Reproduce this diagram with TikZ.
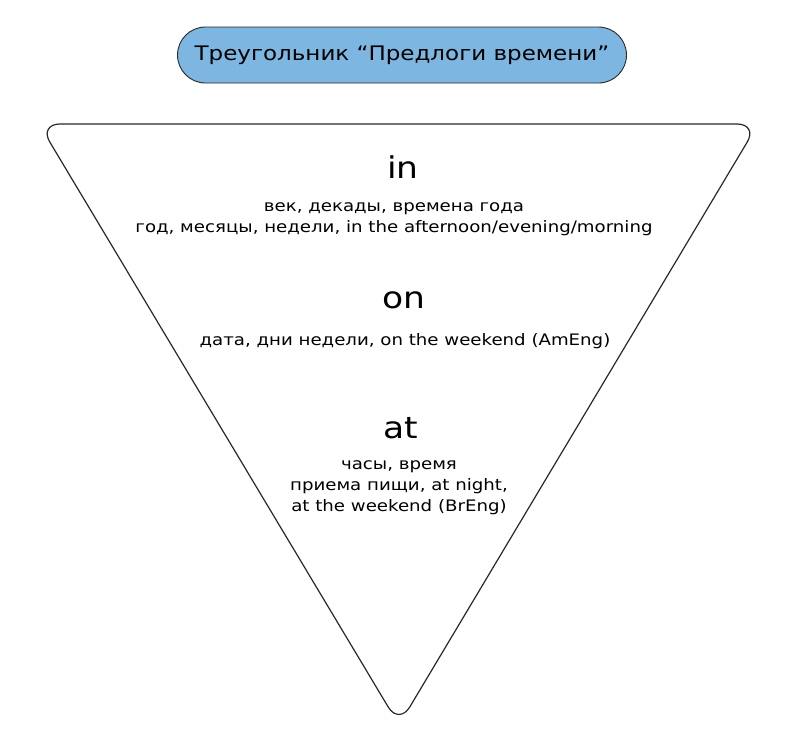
\documentclass[tikz,border=0pt]{standalone}
\usepackage{fontspec}
\setmainfont{DejaVu Sans}[FakeStretch=1.15]
\definecolor{titleblue}{RGB}{125,183,225}
\definecolor{edgegray}{RGB}{40,40,40}

\begin{document}
\begin{tikzpicture}[x=1pt,y=-1pt,
		prep/.style={font=\fontsize{30}{30}\selectfont, inner sep=0pt},
		usage/.style={font=\fontsize{15.8}{21}\selectfont, align=center, inner sep=0pt},
		titlebox/.style={draw=edgegray, fill=titleblue, line width=0.9pt, rounded corners=28pt,
			minimum width=449pt, minimum height=56pt, font=\fontsize{20}{20}\selectfont}]
		\useasboundingbox (0,0) rectangle (807,748);
		% title
		\node [titlebox] (title) at (402,55) {Треугольник “Предлоги времени”};
		% the triangle
		\coordinate (tl) at (39,124);
		\coordinate (tr) at (758,124);
		\coordinate (bt) at (399,725);
		\draw [edgegray, line width=1.2pt, rounded corners=21pt] (tl) -- (tr) -- (bt) -- cycle;
		% in
		\node [prep] (in) at (403,167) {in};
		\node [usage] (inuse) at (394,219) {век, декады, времена года\\год, месяцы, недели, in the afternoon/evening/morning};
		% on
		\node [prep] (on) at (404,300) {on};
		\node [usage] (onuse) at (405,341) {дата, дни недели, on the weekend (AmEng)};
		% at
		\node [prep] (at) at (401,428) {at};
		\node [usage] (atuse) at (399,488) {часы, время\\приема пищи, at night,\\at the weekend (BrEng)};
	\end{tikzpicture}
\end{document}
